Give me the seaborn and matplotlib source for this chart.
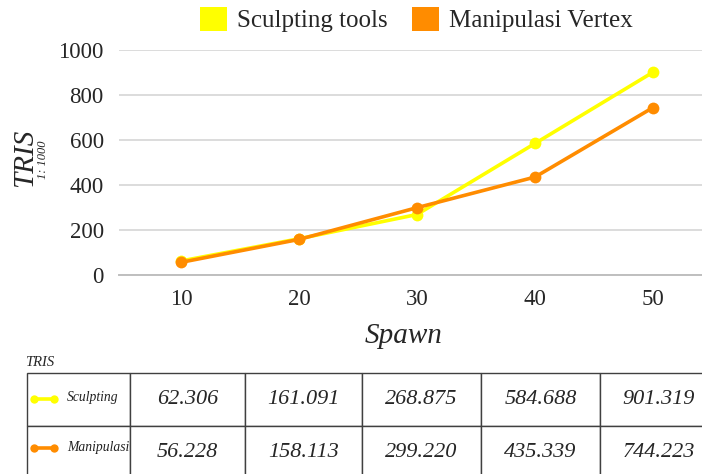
import matplotlib
matplotlib.use("Agg")
import matplotlib.pyplot as plt
from matplotlib.patches import Patch
from matplotlib.lines import Line2D
import seaborn as sns
import pandas as pd

# ---- data ----
spawn = [10, 20, 30, 40, 50]
series_names = ["Sculpting tools", "Manipulasi Vertex"]
table_labels = ["Sculpting", "Manipulasi"]
sculpting = [62.306, 161.091, 268.875, 584.688, 901.319]
manipulasi = [56.228, 158.113, 299.220, 435.339, 744.223]
y_ticks = [0, 200, 400, 600, 800, 1000]
colors = ["#FFFF00", "#FF8C00"]

sns.set_style("white")
plt.rcParams["font.family"] = ["Liberation Serif", "DejaVu Serif"]

W, H = 702, 474
fig = plt.figure(figsize=(W / 100, H / 100), dpi=100)

def fx(px):
    return px / W

def fy(py):
    return 1 - py / H

df = pd.DataFrame({
    "Spawn": spawn * 2,
    "TRIS": sculpting + manipulasi,
    "series": [series_names[0]] * len(spawn) + [series_names[1]] * len(spawn),
})

ax = fig.add_axes([fx(119), fy(275), (W - 119) / W, 225 / H])
sns.lineplot(data=df, x="Spawn", y="TRIS", hue="series", hue_order=series_names,
             palette=colors, marker="o", markersize=8.5, markeredgewidth=0,
             linewidth=2.6, legend=False, ax=ax)
ax.set_xlim(4.75, 54.15)
ax.set_ylim(0, 1000)
ax.set_xticks(spawn)
ax.set_yticks(y_ticks)
ax.set_xticklabels([str(v) for v in spawn], fontsize=16.5)
ax.set_yticklabels([str(v) for v in y_ticks], fontsize=16.5)
ax.tick_params(axis="x", length=0, pad=10)
ax.tick_params(axis="y", length=0, pad=11)
ax.grid(axis="y", color="#DCDCDC", linewidth=1.4)
ax.set_axisbelow(True)
for s in ax.spines.values():
    s.set_visible(False)
ax.spines["bottom"].set_visible(True)
ax.spines["bottom"].set_color("#BFBFBF")
ax.spines["bottom"].set_linewidth(1.4)
ax.set_xlabel("")
ax.set_ylabel("")

fig.text(fx(404), fy(336), "Spawn", fontsize=21, style="italic",
         ha="center", va="center")
fig.text(fx(25), fy(158), "TRIS", fontsize=21, style="italic",
         ha="center", va="center", rotation=90)
fig.text(fx(43), fy(160), "1: 1000", fontsize=9, style="italic",
         ha="center", va="center", rotation=90)

# legend
handles = [Patch(facecolor=c, edgecolor="none") for c in colors]
fig.legend(handles, series_names, loc="upper left",
           bbox_to_anchor=(fx(200), fy(7)), ncol=2, frameon=False,
           fontsize=18, handlelength=1.08, handleheight=1.08,
           handletextpad=0.4, columnspacing=0.96, borderpad=0,
           borderaxespad=0)

# table
fig.text(fx(25), fy(363), "TRIS", fontsize=10.5, style="italic",
         ha="left", va="center")
tax = fig.add_axes([fx(27), fy(479), (718 - 27) / W, (479 - 373) / H])
tax.axis("off")
cell_text = [[""] + [f"{v:.3f}" for v in sculpting],
             [""] + [f"{v:.3f}" for v in manipulasi]]
widths = [103, 115, 117, 119, 119, 118]
tot = sum(widths)
tbl = tax.table(cellText=cell_text, colWidths=[w / tot for w in widths],
                bbox=[0, 0, 1, 1], cellLoc="center")
tbl.auto_set_font_size(False)
for (r, c), cell in tbl.get_celld().items():
    cell.set_edgecolor("#404040")
    cell.set_linewidth(1.0)
    cell.get_text().set_fontsize(16)
    cell.get_text().set_fontstyle("italic")

row_y = [399, 448]
for i, (lab, col) in enumerate(zip(table_labels, colors)):
    icon = Line2D([fx(34), fx(54)], [fy(row_y[i]), fy(row_y[i])],
                  transform=fig.transFigure, color=col, linewidth=2.6,
                  marker="o", markersize=6, markeredgewidth=0)
    fig.add_artist(icon)
    fig.text(fx(67), fy(row_y[i] - 1), lab, fontsize=9.8, style="italic",
             ha="left", va="center", color="#222222")

fig.savefig("out.png", dpi=100)
